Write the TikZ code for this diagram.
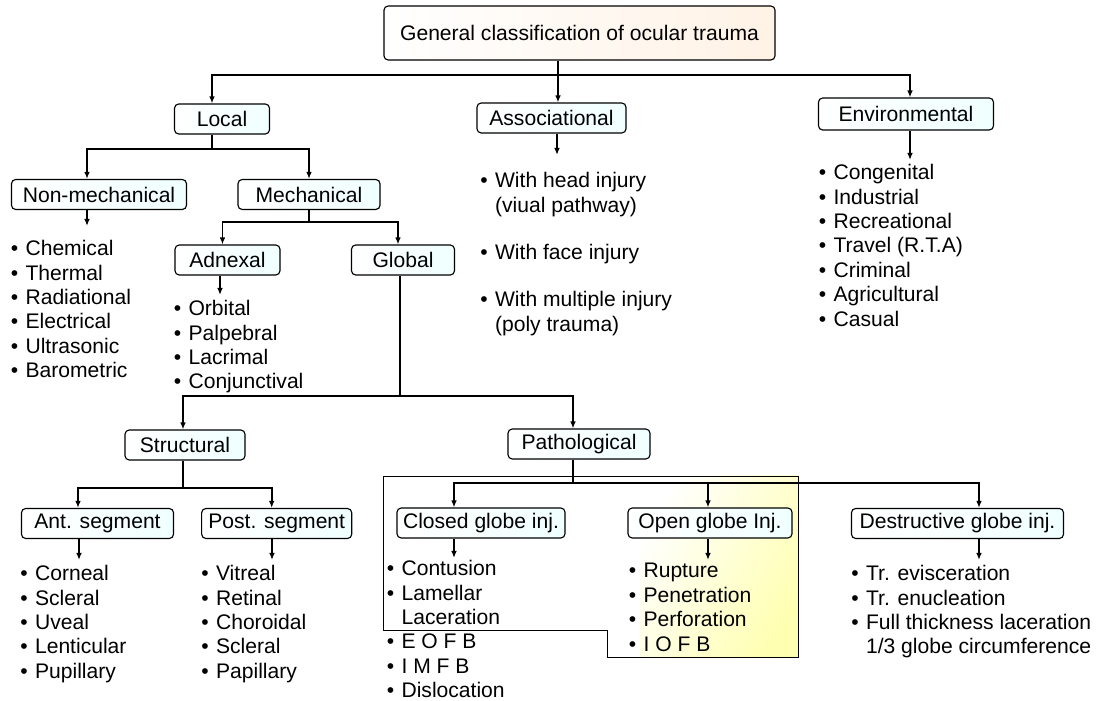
\documentclass[tikz,border=0pt]{standalone}
\usepackage{fontspec}
\setmainfont{Liberation Sans}
\usetikzlibrary{arrows.meta, calc}
\tikzset{
  box/.style={rectangle, rounded corners=3pt, draw=black, line width=0.8pt,
    left color=white, right color=cyan!6, minimum height=0.75cm,
    inner xsep=4pt, inner ysep=0pt},
  items/.style={anchor=north west, align=left, inner sep=0pt},
  arr/.style={-{Latex[length=5pt,width=4pt]}, line width=1.2pt},
  bar/.style={line width=1.2pt}
}
\newcommand{\bl}{\textbullet\hspace{0.35em}}
\newcommand{\ind}{\hphantom{\textbullet}\hspace{0.35em}}

\begin{document}
\begin{tikzpicture}[x=0.025cm, y=-0.025cm, font=\fontsize{15}{17.4}\selectfont]
        \useasboundingbox (0,0) rectangle (1101,701);

        \shade[shading=axis, left color=white, right color=yellow!30, shading angle=60] (640,476) rectangle (798,657);
        \draw[line width=0.7pt] (383,476) -- (798,476) -- (798,657) -- (607,657)
          -- (607,630) -- (383,630) -- cycle;

        \node[box, right color=orange!10, minimum width=9.775cm, minimum height=1.35cm] (root) at (579.5,33) {General classification of ocular trauma};
        \node[box, minimum width=2.375cm] (local) at (222,119) {Local};
        \node[box, minimum width=3.725cm] (assoc) at (551.5,118) {Associational};
        \node[box, minimum width=4.375cm, minimum height=0.8cm] (env) at (906,114) {Environmental};
        \node[box, minimum width=4.375cm] (nonmech) at (99,194.5) {Non-mechanical};
        \node[box, minimum width=3.55cm] (mech) at (309,194.5) {Mechanical};
        \node[box, minimum width=2.625cm] (adnexal) at (227.5,260) {Adnexal};
        \node[box, minimum width=2.575cm] (global) at (403,260) {Global};
        \node[box, minimum width=3.0cm] (struct) at (185,445) {Structural};
        \node[box, minimum width=3.55cm] (patho) at (579,444) {Pathological};
        \node[box, minimum width=3.8cm] (ant) at (97.5,523.5) {Ant. segment};
        \node[box, minimum width=3.75cm] (post) at (276.7,523.5) {Post. segment};
        \node[box, minimum width=4.2cm] (closed) at (481,523) {Closed globe inj.};
        \node[box, minimum width=4.1cm] (open) at (710,523) {Open globe Inj.};
        \node[box, minimum width=5.3cm] (dest) at (957.5,523.5) {Destructive globe inj.};

        \node[items] (nmlist) at (10.5,240) {\bl Chemical\\ \bl Thermal\\ \bl Radiational\\ \bl Electrical\\ \bl Ultrasonic\\ \bl Barometric};
        \node[items] (adlist) at (173.5,300) {\bl Orbital\\ \bl Palpebral\\ \bl Lacrimal\\ \bl Conjunctival};
        \node[items] (aslist1) at (480,172) {\bl With head injury\\ \ind(viual pathway)};
        \node[items] (aslist2) at (480,244) {\bl With face injury};
        \node[items] (aslist3) at (480,291) {\bl With multiple injury\\ \ind(poly trauma)};
        \node[items] (envlist) at (818.5,164) {\bl Congenital\\ \bl Industrial\\ \bl Recreational\\ \bl Travel (R.T.A)\\ \bl Criminal\\ \bl Agricultural\\ \bl Casual};
        \node[items] (antlist) at (20,565) {\bl Corneal\\ \bl Scleral\\ \bl Uveal\\ \bl Lenticular\\ \bl Pupillary};
        \node[items] (postlist) at (201,565) {\bl Vitreal\\ \bl Retinal\\ \bl Choroidal\\ \bl Scleral\\ \bl Papillary};
        \node[items] (closedlist) at (386.5,560) {\bl Contusion\\ \bl Lamellar\\ \ind Laceration\\ \bl E O F B\\ \bl I M F B\\ \bl Dislocation};
        \node[items] (openlist) at (628.5,563) {\bl Rupture\\ \bl Penetration\\ \bl Perforation\\ \bl I O F B};
        \node[items] (destlist) at (851,565) {\bl Tr. evisceration\\ \bl Tr. enucleation\\ \bl Full thickness laceration\\ \ind 1/3 globe circumference};

        \coordinate (jroot) at (558,75);
        \coordinate (jlocal) at (212,149);
        \coordinate (jmech) at (309,222);
        \coordinate (jglobal) at (400,396);
        \coordinate (jstruct) at (183,488);
        \coordinate (jpatho) at (573,483);

        \draw[bar] (root.south -| jroot) -- (jroot);
        \draw[bar] (local.south -| jlocal) -- (jlocal);
        \draw[bar] (mech.south -| jmech) -- (jmech);
        \draw[bar] (global.south -| jglobal) -- (jglobal);
        \draw[bar] (struct.south -| jstruct) -- (jstruct);
        \draw[bar] (patho.south -| jpatho) -- (jpatho);

        \foreach \from/\to/\dx in {
          jroot/local/-10, jroot/assoc/6.5, jroot/env/4,
          jlocal/nonmech/-12, jlocal/mech/0,
          jmech/adnexal/-5, jmech/global/-5,
          jglobal/struct/-2, jglobal/patho/-6,
          jstruct/ant/-19.5, jstruct/post/-5,
          jpatho/closed/-27, jpatho/open/-2, jpatho/dest/21.5}
        \draw[arr] (\from) -| ($(\to.north)+(\dx,0)$);

        \coordinate (tnm) at (87,226);
        \coordinate (tad) at (220,295);
        \coordinate (tas) at (557,155);
        \coordinate (tenv) at (910,160);
        \coordinate (tant) at (79,560);
        \coordinate (tpost) at (272,560);
        \coordinate (tclosed) at (454,558);
        \coordinate (topen) at (708,560);
        \coordinate (tdest) at (979,560);

        \foreach \from/\to in {
          nonmech/tnm, adnexal/tad, assoc/tas, env/tenv,
          ant/tant, post/tpost,
          closed/tclosed, open/topen, dest/tdest}
        \draw[arr] (\from.south -| \to) -- (\to);
      \end{tikzpicture}
\end{document}
